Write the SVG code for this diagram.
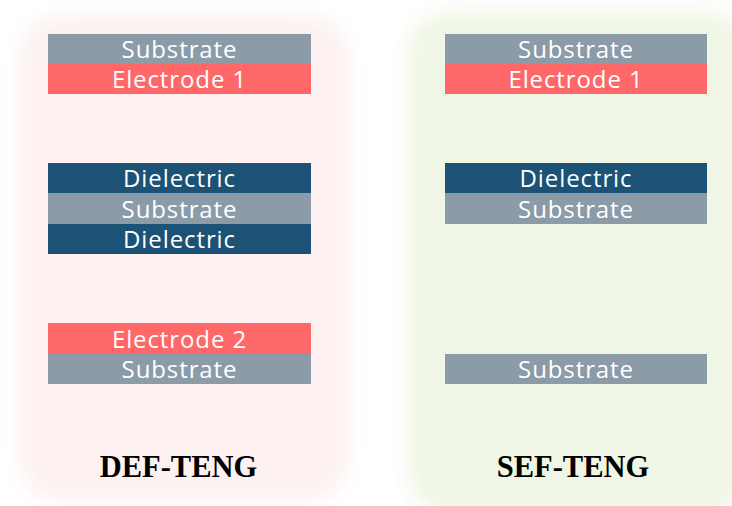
<svg xmlns="http://www.w3.org/2000/svg" width="732" height="506" viewBox="0 0 732 506">
<defs>
<filter id="blur" x="-20%" y="-20%" width="140%" height="140%"><feGaussianBlur stdDeviation="10"/></filter>
<style>
.sub{fill:#8c9ba8}
.ele{fill:#ff6868}
.die{fill:#1b5276}
.lt{font-family:"Open Sans",sans-serif;font-size:24px;letter-spacing:0.9px;fill:#ffffff;text-anchor:middle}
.tt{font-family:"Liberation Serif",serif;font-size:30.5px;font-weight:bold;fill:#000;text-anchor:middle}
</style>
</defs>
<rect width="732" height="506" fill="#ffffff"/>
<g id="panels">
<rect x="20" y="16" width="328" height="484" rx="40" fill="#fdf1f1" filter="url(#blur)"/>
<rect x="408" y="12" width="340" height="502" rx="40" fill="#f0f6e5" filter="url(#blur)"/>
</g>
<g id="def-teng">
<g id="def-substrate1"><rect class="sub" x="48" y="34" width="263" height="30"/><text class="lt" x="179.5" y="58">Substrate</text></g>
<g id="def-electrode1"><rect class="ele" x="48" y="64" width="263" height="30"/><text class="lt" x="179.5" y="88">Electrode 1</text></g>
<g id="def-dielectric1"><rect class="die" x="48" y="163" width="263" height="30"/><text class="lt" x="179.5" y="187">Dielectric</text></g>
<g id="def-substrate2"><rect class="sub" x="48" y="193" width="263" height="31"/><text class="lt" x="179.5" y="217.5">Substrate</text></g>
<g id="def-dielectric2"><rect class="die" x="48" y="224" width="263" height="30"/><text class="lt" x="179.5" y="248">Dielectric</text></g>
<g id="def-electrode2"><rect class="ele" x="48" y="323" width="263" height="31"/><text class="lt" x="179.5" y="347.5">Electrode 2</text></g>
<g id="def-substrate3"><rect class="sub" x="48" y="354" width="263" height="30"/><text class="lt" x="179.5" y="378">Substrate</text></g>
<text id="def-label" class="tt" x="178.5" y="477">DEF-TENG</text>
</g>
<g id="sef-teng">
<g id="sef-substrate1"><rect class="sub" x="445" y="34" width="262" height="30"/><text class="lt" x="576" y="58">Substrate</text></g>
<g id="sef-electrode1"><rect class="ele" x="445" y="64" width="262" height="30"/><text class="lt" x="576" y="88">Electrode 1</text></g>
<g id="sef-dielectric"><rect class="die" x="445" y="163" width="262" height="30"/><text class="lt" x="576" y="187">Dielectric</text></g>
<g id="sef-substrate2"><rect class="sub" x="445" y="193" width="262" height="31"/><text class="lt" x="576" y="217.5">Substrate</text></g>
<g id="sef-substrate3"><rect class="sub" x="445" y="354" width="262" height="30"/><text class="lt" x="576" y="378">Substrate</text></g>
<text id="sef-label" class="tt" x="573" y="477">SEF-TENG</text>
</g>
<g id="connectors"/>
</svg>
